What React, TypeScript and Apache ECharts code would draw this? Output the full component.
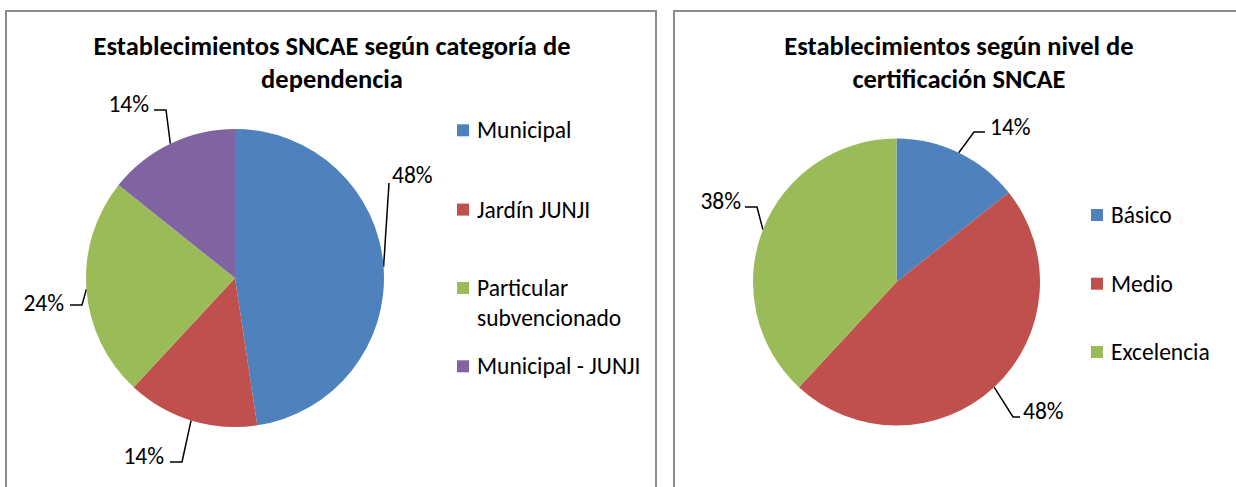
import React, { useEffect, useRef } from "react";
import * as echarts from "echarts";

// ---------- data ----------
const depCategories = ["Municipal", "Jardín JUNJI", "Particular subvencionado", "Municipal - JUNJI"];
const depValues = [10, 3, 5, 3];
const certCategories = ["Básico", "Medio", "Excelencia"];
const certValues = [3, 10, 8];
const depTitle = "Establecimientos SNCAE según categoría de\ndependencia";
const certTitle = "Establecimientos según nivel de\ncertificación SNCAE";

// ---------- styles / layout ----------
const FONT = "Carlito, Calibri, Lato, sans-serif";
const PALETTE = ["#4F81BD", "#C0504D", "#9BBB59", "#8064A2"];
const TEXT_SIZE = 23.5;
const LEGEND_LH = 30;
const depCenter: [number, number] = [235, 278];
const depRadius = 149;
const certCenter: [number, number] = [896.5, 282];
const certRadius = 143.5;

// label placement relative to pie center: t = text anchor, b = bend, e = end of leader line
const depLabelSpecs = [
  { t: [157, -103], b: [154, -95], e: [154, -95], align: "left" },
  { t: [-71, 178], b: [-53, 184], e: [-65, 184], align: "right" },
  { t: [-171, 25], b: [-153, 27], e: [-165, 27], align: "right" },
  { t: [-86, -174], b: [-69, -168], e: [-81, -168], align: "right" },
];
const certLabelSpecs = [
  { t: [93.5, -155], b: [77.5, -150], e: [88.5, -150], align: "left" },
  { t: [126.5, 129], b: [116.5, 135], e: [123.5, 135], align: "left" },
  { t: [-155.5, -81], b: [-139.5, -75], e: [-151.5, -75], align: "right" },
];
const depLegendX = 457;
const depLegendCenters = [130.3, 209.6, 288, 366.3];
const certLegendX = 1091;
const certLegendCenters = [215, 283.7, 352];
// wrapped legend label: leading blank line keeps the first text line level with the marker
const wrapNames: Record<string, string> = {
  "Particular subvencionado": "\nParticular\nsubvencionado",
};

function makeLabelLayout(center: [number, number], specs: any[]) {
  return (p: any) => {
    const s = specs[p.dataIndex];
    const [cx, cy] = center;
    const res: any = {
      x: cx + s.t[0],
      y: cy + s.t[1],
      align: s.align,
      verticalAlign: "middle",
    };
    const pts = p.labelLinePoints;
    if (pts && pts[0]) {
      res.labelLinePoints = [
        [pts[0][0], pts[0][1]],
        [cx + s.b[0], cy + s.b[1]],
        [cx + s.e[0], cy + s.e[1]],
      ];
    }
    return res;
  };
}

function makeLegends(names: string[], x: number, centers: number[]) {
  return names.map((name, i) => {
    const multi = !!wrapNames[name];
    return {
      data: [name],
      left: x,
      top: centers[i] - (multi ? LEGEND_LH * 1.5 : LEGEND_LH / 2),
      orient: "vertical",
      icon: "rect",
      itemWidth: 12,
      itemHeight: 12,
      padding: 0,
      formatter: (n: string) => wrapNames[n] || n,
      textStyle: {
        fontFamily: FONT,
        fontSize: TEXT_SIZE,
        color: "#000",
        lineHeight: LEGEND_LH,
        padding: [0, 0, 0, 3],
      },
    };
  });
}

function pieSeries(
  names: string[],
  values: number[],
  center: [number, number],
  radius: number,
  specs: any[]
) {
  return {
    type: "pie",
    center,
    radius,
    startAngle: 90,
    clockwise: true,
    percentPrecision: 0,
    avoidLabelOverlap: false,
    data: names.map((n, i) => ({
      name: n,
      value: values[i],
      itemStyle: { color: PALETTE[i] },
    })),
    itemStyle: { borderWidth: 0 },
    label: {
      show: true,
      position: "outside",
      formatter: "{d}%",
      fontFamily: FONT,
      fontSize: TEXT_SIZE,
      color: "#000",
    },
    labelLine: {
      show: true,
      length: 10,
      length2: 10,
      lineStyle: { color: "#000", width: 1.5 },
    },
    labelLayout: makeLabelLayout(center, specs),
    emphasis: { disabled: true },
  };
}

export default function App() {
  const ref = useRef<HTMLDivElement>(null);
  useEffect(() => {
    if (!ref.current) return;
    const chart = echarts.init(ref.current, null, { renderer: "svg" });
    const titleStyle = {
      fontFamily: FONT,
      fontSize: 26.5,
      fontWeight: "bold",
      color: "#000",
      lineHeight: 33,
    };
    chart.setOption({
      animation: false,
      backgroundColor: "#fff",
      title: [
        { text: depTitle, left: 332, top: 29.5, textAlign: "center", padding: 0, textStyle: titleStyle },
        { text: certTitle, left: 959, top: 29.5, textAlign: "center", padding: 0, textStyle: titleStyle },
      ],
      legend: [
        ...makeLegends(depCategories, depLegendX, depLegendCenters),
        ...makeLegends(certCategories, certLegendX, certLegendCenters),
      ],
      graphic: [
        {
          type: "rect",
          shape: { x: 6, y: 11, width: 650, height: 520 },
          style: { fill: "none", stroke: "#8c8c8c", lineWidth: 2 },
          silent: true,
        },
        {
          type: "rect",
          shape: { x: 674, y: 11, width: 620, height: 520 },
          style: { fill: "none", stroke: "#8c8c8c", lineWidth: 2 },
          silent: true,
        },
      ],
      series: [
        pieSeries(depCategories, depValues, depCenter, depRadius, depLabelSpecs),
        pieSeries(certCategories, certValues, certCenter, certRadius, certLabelSpecs),
      ],
    });
    return () => chart.dispose();
  }, []);
  return (
    <div
      ref={ref}
      style={{ position: "absolute", left: 0, top: 0, width: 1236, height: 487, background: "#fff" }}
    />
  );
}
